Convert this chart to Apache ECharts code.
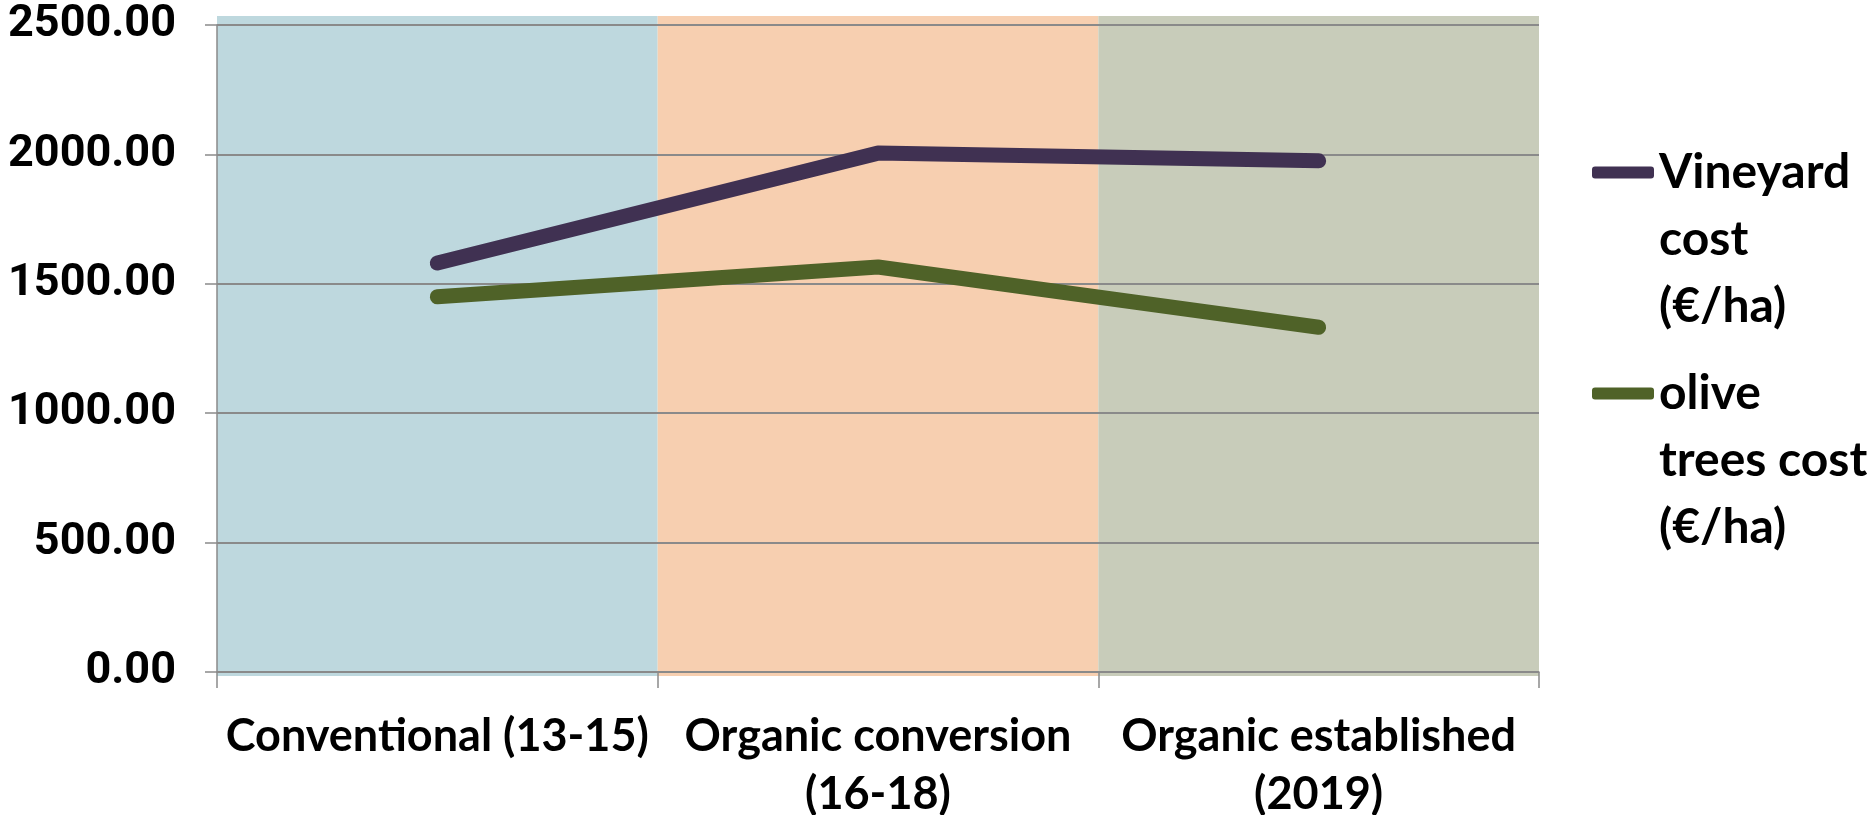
<!DOCTYPE html>
<html>
<head>
<meta charset="utf-8">
<title>Cost per ha</title>
<script src="https://cdn.jsdelivr.net/npm/echarts@6/dist/echarts.min.js"></script>
<style>
    html, body { margin: 0; padding: 0; background: #fff; }
    #main { width: 1876px; height: 815px; }
</style>
</head>
<body>
<div id="main"></div>
<script>
// periods on the x axis
var categories = ['Conventional (13-15)', 'Organic conversion\n(16-18)', 'Organic established\n(2019)'];
// costs in euro per hectare
var vineyardCost = [1580, 2005, 1975];
var oliveCost = [1450, 1565, 1332];
var seriesNames = ['Vineyard cost (€/ha)', 'olive trees cost (€/ha)'];
// legend texts as wrapped in the picture
var legendLines = {
    'Vineyard cost (€/ha)': 'Vineyard\ncost\n(€/ha)',
    'olive trees cost (€/ha)': 'olive\ntrees cost\n(€/ha)'
};
// background colour of each period
var bandColors = ['#BED8DE', '#F7CFB0', '#C8CCBA'];

var font = 'Lato, "Open Sans", sans-serif';

var myChart = echarts.init(document.getElementById('main'));

// two empty lines on top so the icon sits on the first text line
function makeLegend(name, top) {
    return {
        data: [name],
        left: 1587,
        top: top,
        orient: 'vertical',
        icon: 'roundRect',
        itemWidth: 62,
        itemHeight: 12,
        selectedMode: false,
        formatter: function(n) { return '\n\n' + legendLines[n]; },
        textStyle: {
            fontFamily: font,
            fontWeight: 'bold',
            fontSize: 48,
            lineHeight: 67,
            color: '#000'
        }
    };
}

var option = {
    animation: false,
    backgroundColor: '#fff',
    legend: [
        makeLegend(seriesNames[0], 0),
        makeLegend(seriesNames[1], 221)
    ],
    grid: [
        // grid holding only the coloured bands
        { left: 217, right: 337, top: 16, bottom: 139, outerBoundsMode: 'none', containLabel: false },
        { left: 217, right: 337, top: 25, bottom: 143, outerBoundsMode: 'none', containLabel: false }
    ],
    xAxis: [{
        gridIndex: 0,
        type: 'category',
        data: categories,
        z: 0,
        axisLine: { show: false },
        axisTick: { show: false },
        axisLabel: { show: false },
        splitLine: { show: false },
        splitArea: { show: true, areaStyle: { color: bandColors, opacity: 1 } }
    }, {
        gridIndex: 1,
        type: 'category',
        data: categories,
        z: 1,
        boundaryGap: true,
        axisLine: { lineStyle: { color: '#8a8a8a', width: 1.5 } },
        axisTick: { show: true, length: 16, lineStyle: { color: '#8a8a8a', width: 1.5 } },
        axisLabel: {
            interval: 0,
            margin: 35,
            fontFamily: font,
            fontWeight: 'bold',
            fontSize: 45,
            lineHeight: 58,
            color: '#000'
        }
    }],
    yAxis: [{
        gridIndex: 0,
        type: 'value',
        show: false
    }, {
        gridIndex: 1,
        type: 'value',
        min: 0,
        max: 2500,
        interval: 500,
        z: 1,
        axisLine: { show: true, lineStyle: { color: '#8a8a8a', width: 1.5 } },
        axisTick: { show: true, length: 12, lineStyle: { color: '#8a8a8a', width: 1.5 } },
        splitLine: { lineStyle: { color: '#8a8a8a', width: 2 } },
        axisLabel: {
            margin: 41,
            fontFamily: 'Roboto, sans-serif',
            fontWeight: 'bold',
            fontSize: 45,
            color: '#000',
            formatter: function(v) { return v.toFixed(2); }
        }
    }],
    series: [{
        name: seriesNames[0],
        type: 'line',
        xAxisIndex: 1,
        yAxisIndex: 1,
        data: vineyardCost,
        showSymbol: false,
        z: 3,
        itemStyle: { color: '#403152' },
        lineStyle: { color: '#403152', width: 15, cap: 'round', join: 'round' }
    }, {
        name: seriesNames[1],
        type: 'line',
        xAxisIndex: 1,
        yAxisIndex: 1,
        data: oliveCost,
        showSymbol: false,
        z: 3,
        itemStyle: { color: '#4F6228' },
        lineStyle: { color: '#4F6228', width: 15, cap: 'round', join: 'round' }
    }]
};

myChart.setOption(option);
</script>
</body>
</html>
